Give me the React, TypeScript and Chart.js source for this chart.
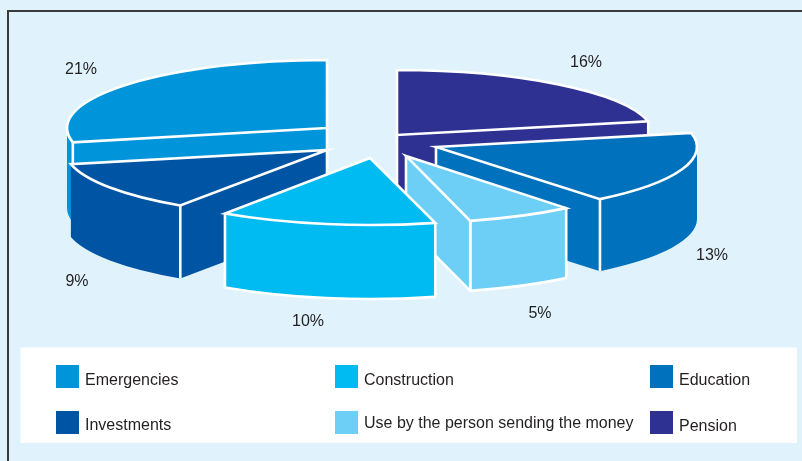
import React, { useEffect, useRef } from "react";
import { Chart, registerables } from "chart.js";

Chart.register(...registerables);

// Data, in the pie's clockwise order starting from 12 o'clock
const categories = [
  "Pension",
  "Education",
  "Use by the person sending the money",
  "Construction",
  "Investments",
  "Emergencies",
];
const shares = [16, 13, 5, 10, 9, 21];
const colours = ["#2E3192", "#0071BC", "#6DCFF6", "#00BBF2", "#0054A4", "#0095DA"];

// Legend reading order (rows of three)
const legendOrder = [
  "Emergencies",
  "Construction",
  "Education",
  "Investments",
  "Use by the person sending the money",
  "Pension",
];

// Painter's order for the 3D slices, back to front
const paintOrder = [
  "Emergencies",
  "Pension",
  "Investments",
  "Education",
  "Use by the person sending the money",
  "Construction",
];

// 3D presentation settings (per slice, same order as categories)
const explodeX = [35, 74, 44, 8, -35, -35];
const explodeY = [-6, 6, 15, 17, 9, -13];
const radiusX = [257, 261, 255, 259, 262, 260];
const radiusY = [65, 67, 67, 67, 67, 68];
const depths = [72, 72, 70, 74, 73, 80];
const outlinedWalls = [false, false, true, true, false, false];
const labelX = [586, 712, 540, 308, 77, 81];
const labelY = [63, 256, 314, 322, 282, 70];

const PIE = { cx: 362, cy: 141 };
const LEGEND = {
  colX: [56, 335, 650],
  rowY: [365, 411],
  textX: [85, 364, 679],
  textY: [
    [381, 381, 381],
    [426, 424, 427],
  ],
};
const FONT = '"Liberation Sans", Arial, sans-serif';
const INK = "#231F20";

const pie3d = {
  id: "pie3d",
  beforeDraw(chart: any) {
    const { ctx, width, height } = chart;
    ctx.save();
    ctx.fillStyle = "#E0F3FD";
    ctx.fillRect(0, 0, width, height);
    ctx.strokeStyle = "#3A3A3A";
    ctx.lineWidth = 2;
    ctx.beginPath();
    ctx.moveTo(8, height);
    ctx.lineTo(8, 11);
    ctx.lineTo(width, 11);
    ctx.stroke();
    ctx.fillStyle = "#FFFFFF";
    ctx.fillRect(20.5, 347.5, 776.5, 95.5);
    ctx.restore();
  },
  beforeDatasetDraw(chart: any, args: any) {
    const { ctx } = chart;
    const arcs = args.meta.data;
    paintOrder.forEach((name) => {
      const i = categories.indexOf(name);
      const el = arcs[i];
      const a0 = el.startAngle;
      const a1 = el.endAngle;
      const ax = PIE.cx + explodeX[i];
      const ay = PIE.cy + explodeY[i];
      const rx = radiusX[i];
      const ry = radiusY[i];
      const d = depths[i];
      const px = (a: number) => ax + rx * Math.cos(a);
      const py = (a: number) => ay + ry * Math.sin(a);
      const startFace = Math.cos(a0) < -1e-6;
      const endFace = Math.cos(a1) > 1e-6;
      const lo = Math.max(a0, 0);
      const hi = Math.min(a1, Math.PI);
      const hasWall = hi > lo;

      ctx.save();
      ctx.fillStyle = colours[i];
      const face = (a: number) => {
        ctx.beginPath();
        ctx.moveTo(ax, ay);
        ctx.lineTo(px(a), py(a));
        ctx.lineTo(px(a), py(a) + d);
        ctx.lineTo(ax, ay + d);
        ctx.closePath();
        ctx.fill();
      };
      if (startFace) face(a0);
      if (endFace) face(a1);
      const wallBottom = () => {
        ctx.beginPath();
        ctx.ellipse(ax, ay + d, rx, ry, 0, lo, hi);
      };
      if (hasWall) {
        ctx.beginPath();
        ctx.ellipse(ax, ay, rx, ry, 0, lo, hi);
        ctx.ellipse(ax, ay + d, rx, ry, 0, hi, lo, true);
        ctx.closePath();
        ctx.fill();
      }
      ctx.restore();

      // top surface: the library's own arc, squashed into an ellipse
      ctx.save();
      ctx.translate(ax, ay);
      ctx.scale(rx / el.outerRadius, ry / el.outerRadius);
      ctx.translate(-el.x, -el.y);
      el.draw(ctx);
      ctx.restore();

      // white edges
      ctx.save();
      ctx.strokeStyle = "#FFFFFF";
      ctx.lineWidth = 2.6;
      ctx.lineJoin = "miter";
      const vertical = (x: number, y: number) => {
        ctx.beginPath();
        ctx.moveTo(x, y);
        ctx.lineTo(x, y + d);
        ctx.stroke();
      };
      if (startFace || endFace) vertical(ax, ay);
      if (startFace) vertical(px(a0), py(a0));
      if (endFace) vertical(px(a1), py(a1));
      if (outlinedWalls[i]) {
        if (hasWall) {
          wallBottom();
          ctx.stroke();
          vertical(px(lo), py(lo));
          vertical(px(hi), py(hi));
        }
        const faceBottom = (a: number) => {
          ctx.beginPath();
          ctx.moveTo(ax, ay + d);
          ctx.lineTo(px(a), py(a) + d);
          ctx.stroke();
        };
        if (startFace) faceBottom(a0);
        if (endFace) faceBottom(a1);
      }
      ctx.beginPath();
      ctx.moveTo(ax, ay);
      ctx.lineTo(px(a0), py(a0));
      ctx.ellipse(ax, ay, rx, ry, 0, a0, a1);
      ctx.closePath();
      ctx.stroke();
      ctx.restore();
    });
    return false;
  },
  afterDraw(chart: any) {
    const { ctx } = chart;
    ctx.save();
    ctx.fillStyle = INK;
    ctx.textBaseline = "middle";
    ctx.textAlign = "center";
    ctx.font = `16px ${FONT}`;
    categories.forEach((_, i) => {
      ctx.fillText(`${shares[i]}%`, labelX[i], labelY[i]);
    });
    ctx.textAlign = "left";
    ctx.font = `16px ${FONT}`;
    legendOrder.forEach((name, n) => {
      const col = n % 3;
      const row = Math.floor(n / 3);
      ctx.fillStyle = colours[categories.indexOf(name)];
      ctx.fillRect(LEGEND.colX[col], LEGEND.rowY[row], 23, 23);
      ctx.fillStyle = INK;
      ctx.fillText(name, LEGEND.textX[col], LEGEND.textY[row][col]);
    });
    ctx.restore();
  },
};

export default function App() {
  const ref = useRef<HTMLCanvasElement | null>(null);
  useEffect(() => {
    const chart = new Chart(ref.current as HTMLCanvasElement, {
      type: "pie",
      data: {
        labels: categories,
        datasets: [{ data: shares, backgroundColor: colours, borderWidth: 0 }],
      },
      options: {
        animation: false,
        responsive: false,
        events: [],
        plugins: { legend: { display: false }, tooltip: { enabled: false } },
      },
      plugins: [pie3d],
    } as any);
    return () => chart.destroy();
  }, []);
  return (
    <canvas
      ref={ref}
      width={802}
      height={461}
      style={{ position: "fixed", left: 0, top: 0, display: "block" }}
    />
  );
}
